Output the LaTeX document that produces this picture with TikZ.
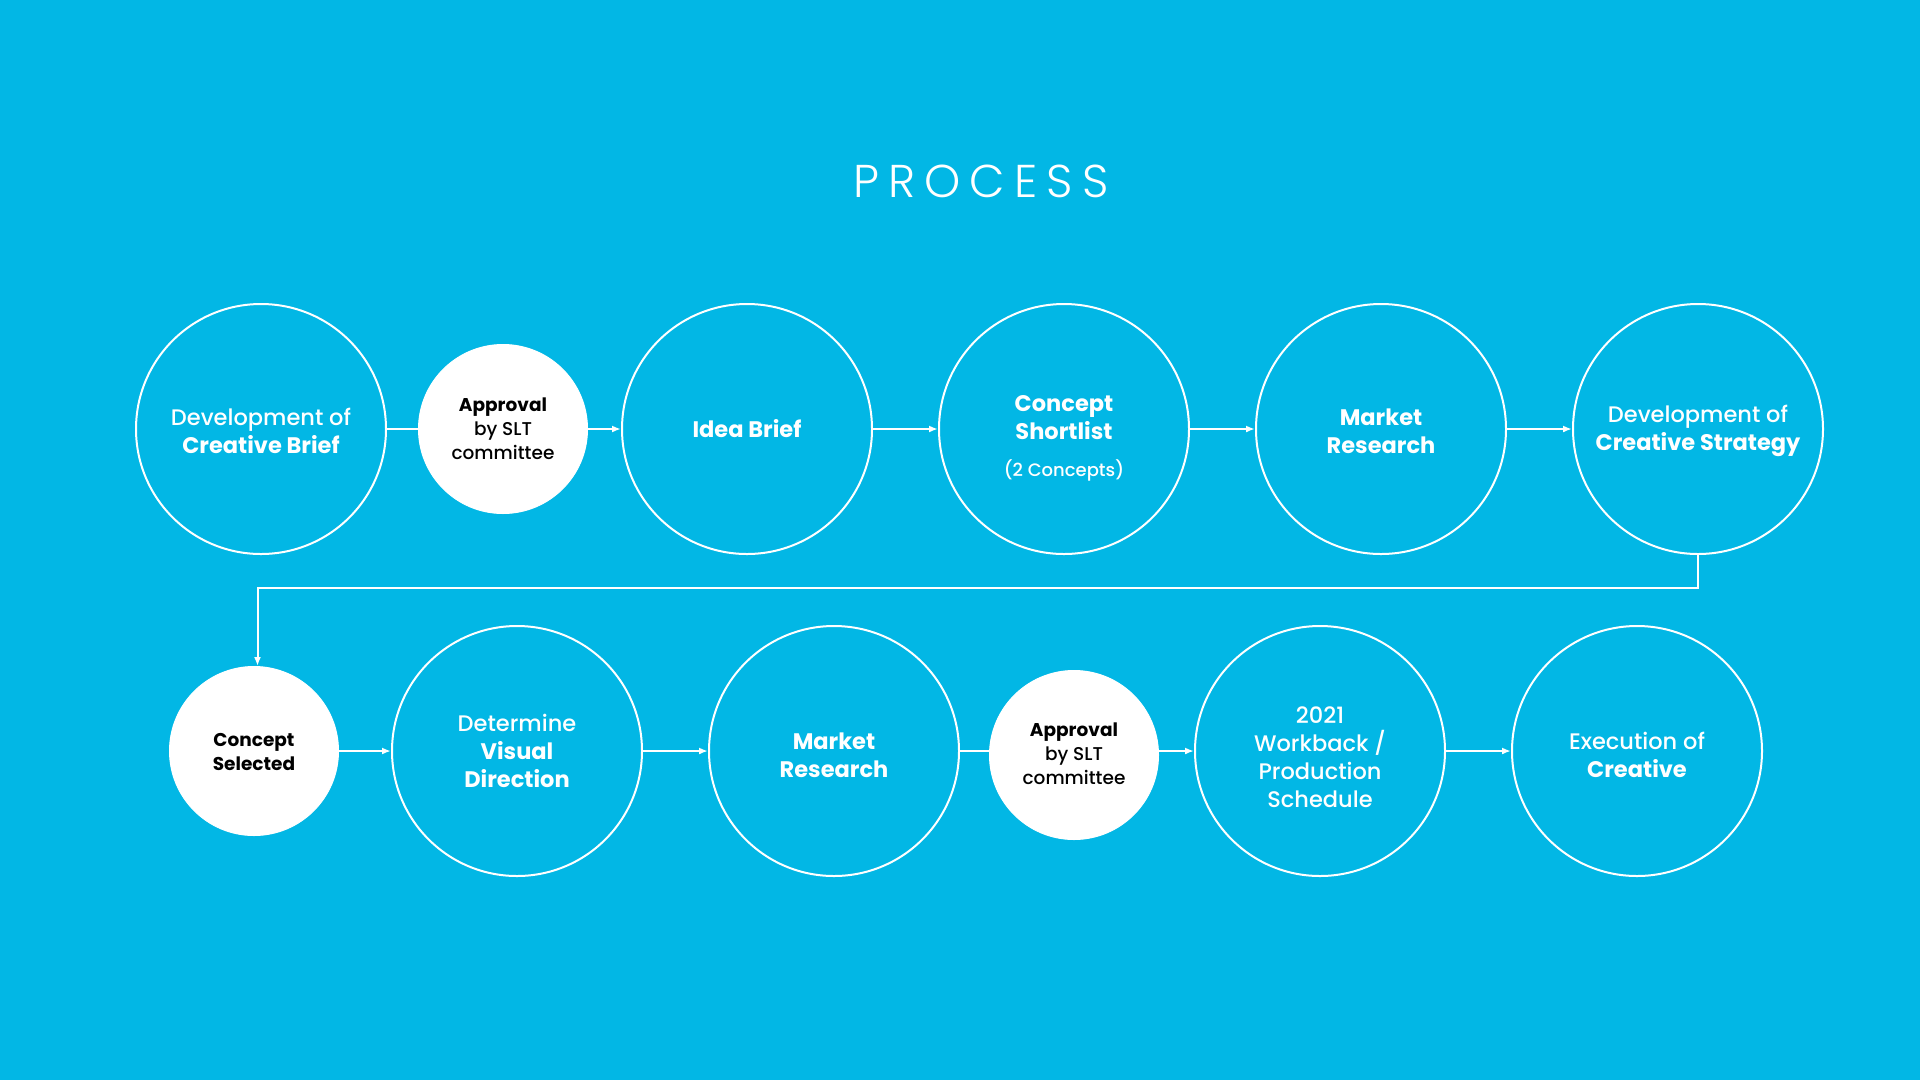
\documentclass[tikz,border=0pt]{standalone}
\usepackage{fontspec}
\setmainfont{Poppins Medium}[BoldFont=Poppins Bold]
\newfontfamily\titlefont[LetterSpace=20]{Poppins Light}
\usetikzlibrary{arrows.meta}
\definecolor{bgblue}{HTML}{02B7E5}
\tikzset{
  bigc/.style={circle,draw=white,line width=2pt,minimum size=250pt,inner sep=0pt},
  smallc/.style={circle,fill=white,draw=white,line width=1pt,minimum size=169pt,inner sep=0pt},
  wtxt/.style={text=white,align=center,font=\fontsize{22.5}{28}\selectfont},
  btxt/.style={text=black,align=center,font=\fontsize{18.5}{24}\selectfont},
  subtxt/.style={text=white,align=center,font=\fontsize{18}{20}\selectfont},
  conn/.style={draw=white,line width=2pt},
  arr/.style={conn,-{Latex[length=9pt,width=7pt]}},
}
\begin{document}
\begin{tikzpicture}[x=1pt,y=-1pt]
\fill[bgblue] (0,0) rectangle (1920,1080);
\useasboundingbox (0,0) rectangle (1920,1080);

\node[text=white,font=\titlefont\fontsize{46}{50}\selectfont] (title) at (981,181) {PROCESS};

% row 1
\node[bigc] (c1) at (261,429) {};
\node[smallc] (a1) at (503,429) {};
\node[bigc] (c2) at (747,429) {};
\node[bigc] (c3) at (1064,429) {};
\node[bigc] (c4) at (1381,429) {};
\node[bigc] (c5) at (1698,429) {};

\node[wtxt] (c1t) at (261,431) {Development of\\\textbf{Creative Brief}};
\node[btxt] (a1t) at (503,429) {\textbf{Approval}\\by SLT\\committee};
\node[wtxt] (c2t) at (747,429) {\textbf{Idea Brief}};
\node[wtxt] (c3t) at (1064,418) {\textbf{Concept}\\\textbf{Shortlist}};
\node[subtxt] (c3s) at (1064,470) {(2 Concepts)};
\node[wtxt] (c4t) at (1381,431) {\textbf{Market}\\\textbf{Research}};
\node[wtxt] (c5t) at (1698,431) {Development of\\\textbf{Creative Strategy}};

\draw[conn] (c1) -- (a1);
\draw[arr] (a1) -- (c2);
\draw[arr] (c2) -- (c3);
\draw[arr] (c3) -- (c4);
\draw[arr] (c4) -- (c5);

% row 2
\node[smallc] (cs) at (254,751) {};
\node[bigc] (d1) at (517,751) {};
\node[bigc] (d2) at (834,751) {};
\node[smallc] (a2) at (1074,755) {};
\node[bigc] (d3) at (1320,751) {};
\node[bigc] (d4) at (1637,751) {};

\node[btxt] (cst) at (254,752) {\textbf{Concept}\\\textbf{Selected}};
\node[wtxt] (d1t) at (517,751) {Determine\\\textbf{Visual}\\\textbf{Direction}};
\node[wtxt] (d2t) at (834,755) {\textbf{Market}\\\textbf{Research}};
\node[btxt] (a2t) at (1074,754) {\textbf{Approval}\\by SLT\\committee};
\node[wtxt] (d3t) at (1320,757) {2021\\Workback /\\Production\\Schedule};
\node[wtxt] (d4t) at (1637,755) {Execution of\\\textbf{Creative}};

% long connector
\coordinate (k1) at (1698,588);
\coordinate (k2) at (257.5,588);
\draw[arr] (c5.south) -- (k1) -- (k2) -- (k2 |- cs.north);

\draw[arr] (cs) -- (d1);
\draw[arr] (d1) -- (d2);
\draw[conn] (d2.east) -- (d2.east -| a2.west);
\draw[arr] (a2.east |- d3.west) -- (d3.west);
\draw[arr] (d3) -- (d4);
\end{tikzpicture}
\end{document}
